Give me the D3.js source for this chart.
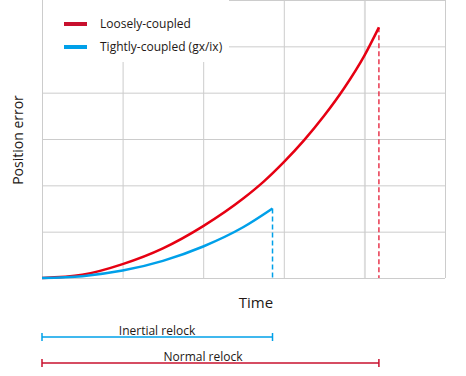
<!DOCTYPE html>
<html lang="en">
<head>
<meta charset="utf-8" />
<title>Position error vs time</title>
<script src="https://d3js.org/d3.v7.min.js"></script>
<style>
  body { margin: 0; background: #fff; }
  text { font-family: "Open Sans", "Noto Sans", sans-serif; fill: #231815; }
</style>
</head>
<body>
<div id="chart"></div>
<script>
// time (grid units) and position error (grid units)
var looseT   = [0, 0.5, 1, 1.5, 2, 2.5, 2.75, 3, 3.25, 3.5, 3.75, 4, 4.18];
var looseErr = [0, 0.07, 0.3, 0.64, 1.12, 1.72, 2.08, 2.5, 2.97, 3.5, 4.1, 4.8, 5.41];
var tightT   = [0, 0.5, 1, 1.5, 2, 2.5, 2.86];
var tightErr = [0, 0.04, 0.16, 0.37, 0.68, 1.1, 1.5];
var seriesNames = ["Loosely-coupled", "Tightly-coupled (gx/ix)"];
var relockNames = ["Inertial relock", "Normal relock"];
var relockEnds = [2.86, 4.18];

var width = 466, height = 376;
var padLeft = 42, padRight = 445, padTop = 0, padBottom = 278;
var red = "#e60012", blue = "#00a0e9";

var x = d3.scaleLinear().domain([0, 5]).range([padLeft, padRight]);
var y = d3.scaleLinear().domain([0, 6]).range([padBottom, padTop]);

var svg = d3.select("#chart").append("svg")
  .attr("width", width)
  .attr("height", height);

// grid
svg.append("g").selectAll("line")
  .data(d3.range(0, 6))
  .enter().append("line")
  .attr("x1", function(d) { return x(d) + 0.5; })
  .attr("x2", function(d) { return x(d) + 0.5; })
  .attr("y1", y(6)).attr("y2", y(0))
  .attr("stroke", function(d) { return d === 4 ? "#dddddd" : "#cccccc"; })
  .attr("stroke-width", function(d) { return d === 4 ? 2 : 1; });

svg.append("g").selectAll("line")
  .data(d3.range(0, 7))
  .enter().append("line")
  .attr("x1", x(0)).attr("x2", x(5))
  .attr("y1", function(d) { return y(d) + 0.5; })
  .attr("y2", function(d) { return y(d) + 0.5; })
  .attr("stroke", "#cccccc")
  .attr("stroke-width", 1);

// legend box hides the grid behind it
svg.append("rect")
  .attr("x", padLeft + 1).attr("y", 0)
  .attr("width", 186).attr("height", 62)
  .attr("fill", "#fff");

var line = d3.line()
  .x(function(d) { return x(d[0]); })
  .y(function(d) { return y(d[1]); })
  .curve(d3.curveMonotoneX);

var loose = d3.zip(looseT, looseErr);
var tight = d3.zip(tightT, tightErr);

// dashed drop lines
svg.append("line")
  .attr("x1", x(looseT[looseT.length - 1])).attr("x2", x(looseT[looseT.length - 1]))
  .attr("y1", y(looseErr[looseErr.length - 1])).attr("y2", y(0))
  .attr("stroke", "#e8384f").attr("stroke-width", 1.5)
  .attr("stroke-dasharray", "5,3");

svg.append("line")
  .attr("x1", x(tightT[tightT.length - 1])).attr("x2", x(tightT[tightT.length - 1]))
  .attr("y1", y(tightErr[tightErr.length - 1])).attr("y2", y(0))
  .attr("stroke", blue).attr("stroke-width", 1.5)
  .attr("stroke-dasharray", "5,3");

svg.append("path").datum(loose)
  .attr("d", line).attr("fill", "none")
  .attr("stroke", red).attr("stroke-width", 2.5);

svg.append("path").datum(tight)
  .attr("d", line).attr("fill", "none")
  .attr("stroke", blue).attr("stroke-width", 2.5);

// legend
var legendColors = ["#c8102e", blue];
seriesNames.forEach(function(name, i) {
  svg.append("line")
    .attr("x1", 64).attr("x2", 87)
    .attr("y1", 24 + i * 23).attr("y2", 24 + i * 23)
    .attr("stroke", legendColors[i]).attr("stroke-width", 4);
  svg.append("text")
    .attr("x", 100).attr("y", 28 + i * 23)
    .style("font-size", "12px")
    .text(name);
});

// axis titles
svg.append("text")
  .attr("x", 256).attr("y", 308)
  .attr("text-anchor", "middle")
  .style("font-size", "15px")
  .text("Time");

svg.append("text")
  .attr("transform", "translate(23," + 140 + ") rotate(-90)")
  .attr("text-anchor", "middle")
  .style("font-size", "14px")
  .text("Position error");

// relock spans
var relockColors = [blue, "#c8102e"];
var relockY = [337, 363];
relockNames.forEach(function(name, i) {
  var g = svg.append("g").attr("stroke", relockColors[i]).attr("stroke-width", 1.5);
  g.append("line")
    .attr("x1", x(0)).attr("x2", x(relockEnds[i]))
    .attr("y1", relockY[i]).attr("y2", relockY[i]);
  g.append("line")
    .attr("x1", x(0)).attr("x2", x(0))
    .attr("y1", relockY[i] - 4).attr("y2", relockY[i] + 4);
  g.append("line")
    .attr("x1", x(relockEnds[i])).attr("x2", x(relockEnds[i]))
    .attr("y1", relockY[i] - 4).attr("y2", relockY[i] + 4);
  svg.append("text")
    .attr("x", i === 0 ? 157 : 203)
    .attr("y", relockY[i] - 2)
    .attr("text-anchor", "middle")
    .style("font-size", "12px")
    .text(name);
});
</script>
</body>
</html>
